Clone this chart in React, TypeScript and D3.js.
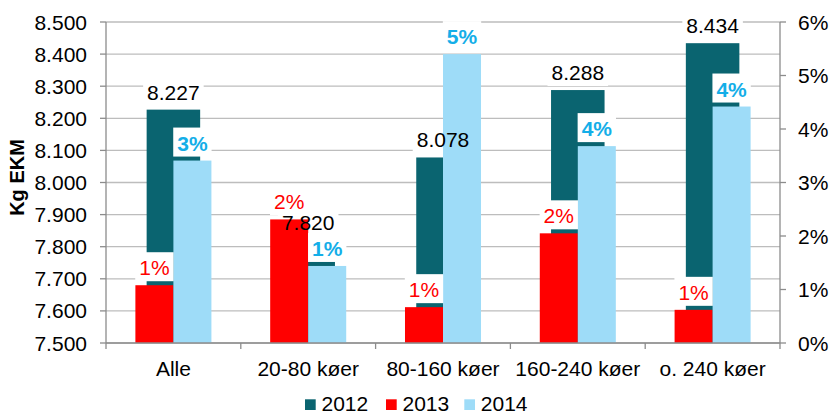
import React from "react";
import * as d3 from "d3";

const categories = ["Alle", "20-80 køer", "80-160 køer", "160-240 køer", "o. 240 køer"];
const values2012 = [8.227, 7.82, 8.078, 8.288, 8.434];
const pct2013 = [0.0108, 0.0231, 0.0067, 0.0205, 0.0062];
const pct2014 = [0.0341, 0.0144, 0.054, 0.0368, 0.0442];
const leftTicks = [7.5, 7.6, 7.7, 7.8, 7.9, 8.0, 8.1, 8.2, 8.3, 8.4, 8.5];
const rightTicks = [0, 0.01, 0.02, 0.03, 0.04, 0.05, 0.06];
const seriesNames = ["2012", "2013", "2014"];

const W = 831, H = 413;
const M = { left: 106, right: 780, top: 22, bottom: 343 };
const FONT = "'Liberation Sans', Arial, sans-serif";
const C2012 = "#0a6470";
const C2013 = "#ff0000";
const C2014 = "#9edcf8";
const LBL2014 = "#14aee8";
const FS = 21;

const fmtDK = (v: number) => d3.format(".3f")(v);
const fmtPct = d3.format(".0%");

export default function App() {
  const x = d3.scaleBand<string>().domain(categories).range([M.left, M.right]).paddingInner(0).paddingOuter(0);
  const yL = d3.scaleLinear().domain([7.5, 8.5]).range([M.bottom, M.top]);
  const yR = d3.scaleLinear().domain([0, 0.06]).range([M.bottom, M.top]);
  const bw = x.bandwidth();
  const w12 = bw * 0.397;
  const w2 = bw * 0.282;

  const textW = (s: string) => {
    let w = 0;
    for (const ch of s) w += ch === "." ? 0.278 : ch === "%" ? 0.889 : 0.556;
    return w * FS;
  };

  const labels12 = categories.map((c, i) => ({ cx: x(c)! + bw / 2, top: yL(values2012[i]), t: fmtDK(values2012[i]) }));
  const labels13 = categories.map((c, i) => ({ cx: x(c)! + bw / 2 - w2 / 2, top: yR(pct2013[i]), t: fmtPct(pct2013[i]) }));
  const labels14 = categories.map((c, i) => ({ cx: x(c)! + bw / 2 + w2 / 2, top: yR(pct2014[i]), t: fmtPct(pct2014[i]) }));

  const box = (l: { cx: number; top: number; t: string }, key: string) => {
    const bwid = textW(l.t) + 8;
    return <rect key={key} x={l.cx - bwid / 2} y={l.top - 4 - 29} width={bwid} height={29} fill="#fff" />;
  };

  const boundaries = [...categories.map((c) => x(c)!), M.right];

  return (
    <svg width={W} height={H} style={{ position: "fixed", left: 0, top: 0, background: "#fff" }} fontFamily={FONT}>
      <rect width={W} height={H} fill="#fff" />
      {leftTicks.map((t) => (
        <line key={"g" + t} x1={M.left} x2={M.right} y1={yL(t)} y2={yL(t)} stroke="#bdbdbd" strokeWidth={1.3} />
      ))}
      {categories.map((c, i) => (
        <rect key={"b12" + c} x={x(c)! + bw / 2 - w12 / 2} y={yL(values2012[i])} width={w12} height={M.bottom - yL(values2012[i])} fill={C2012} />
      ))}
      {labels12.map((l, i) => box(l, "bx12" + i))}
      {categories.map((c, i) => (
        <rect key={"b13" + c} x={x(c)! + bw / 2 - w2} y={yR(pct2013[i])} width={w2} height={M.bottom - yR(pct2013[i])} fill={C2013} />
      ))}
      {categories.map((c, i) => (
        <rect key={"b14" + c} x={x(c)! + bw / 2} y={yR(pct2014[i])} width={w2} height={M.bottom - yR(pct2014[i])} fill={C2014} />
      ))}
      {labels13.map((l, i) => box(l, "bx13" + i))}
      {labels14.map((l, i) => box(l, "bx14" + i))}
      <line x1={M.left} x2={M.left} y1={M.top} y2={M.bottom} stroke="#8c8c8c" strokeWidth={1.3} />
      <line x1={M.right} x2={M.right} y1={M.top} y2={M.bottom} stroke="#8c8c8c" strokeWidth={1.3} />
      <line x1={M.left} x2={M.right} y1={M.bottom} y2={M.bottom} stroke="#8c8c8c" strokeWidth={1.3} />
      {leftTicks.map((t) => (
        <g key={"lt" + t}>
          <line x1={M.left - 6} x2={M.left} y1={yL(t)} y2={yL(t)} stroke="#8c8c8c" strokeWidth={1.3} />
          <text x={87} y={yL(t) + 7.5} textAnchor="end" fontSize={FS} fill="#000">{fmtDK(t)}</text>
        </g>
      ))}
      {rightTicks.map((t) => (
        <g key={"rt" + t}>
          <line x1={M.right} x2={M.right + 6} y1={yR(t)} y2={yR(t)} stroke="#8c8c8c" strokeWidth={1.3} />
          <text x={798} y={yR(t) + 7.5} textAnchor="start" fontSize={FS} fill="#000">{fmtPct(t)}</text>
        </g>
      ))}
      {boundaries.map((b, i) => (
        <line key={"xt" + i} x1={b} x2={b} y1={M.bottom} y2={M.bottom + 6} stroke="#8c8c8c" strokeWidth={1.3} />
      ))}
      {categories.map((c) => (
        <text key={"xl" + c} x={x(c)! + bw / 2} y={376} textAnchor="middle" fontSize={FS} fill="#000">{c}</text>
      ))}
      {labels12.map((l, i) => (
        <text key={"t12" + i} x={l.cx} y={l.top - 10} textAnchor="middle" fontSize={FS} fill="#000">{l.t}</text>
      ))}
      {labels13.map((l, i) => (
        <text key={"t13" + i} x={l.cx} y={l.top - 10} textAnchor="middle" fontSize={FS} fill={C2013}>{l.t}</text>
      ))}
      {labels14.map((l, i) => (
        <text key={"t14" + i} x={l.cx} y={l.top - 10} textAnchor="middle" fontSize={FS} fontWeight="bold" fill={LBL2014}>{l.t}</text>
      ))}
      <text transform={`translate(24,${(M.top + M.bottom) / 2 - 5}) rotate(-90)`} textAnchor="middle" fontSize={20} fontWeight="bold" fill="#000">Kg EKM</text>
      {seriesNames.map((s, i) => {
        const lx = [305, 386, 464.3][i];
        const col = [C2012, C2013, C2014][i];
        return (
          <g key={"lg" + s}>
            <rect x={lx} y={399.3} width={10.7} height={10.7} fill={col} />
            <text x={lx + 16.5} y={410.5} fontSize={FS} fill="#000">{s}</text>
          </g>
        );
      })}
    </svg>
  );
}
